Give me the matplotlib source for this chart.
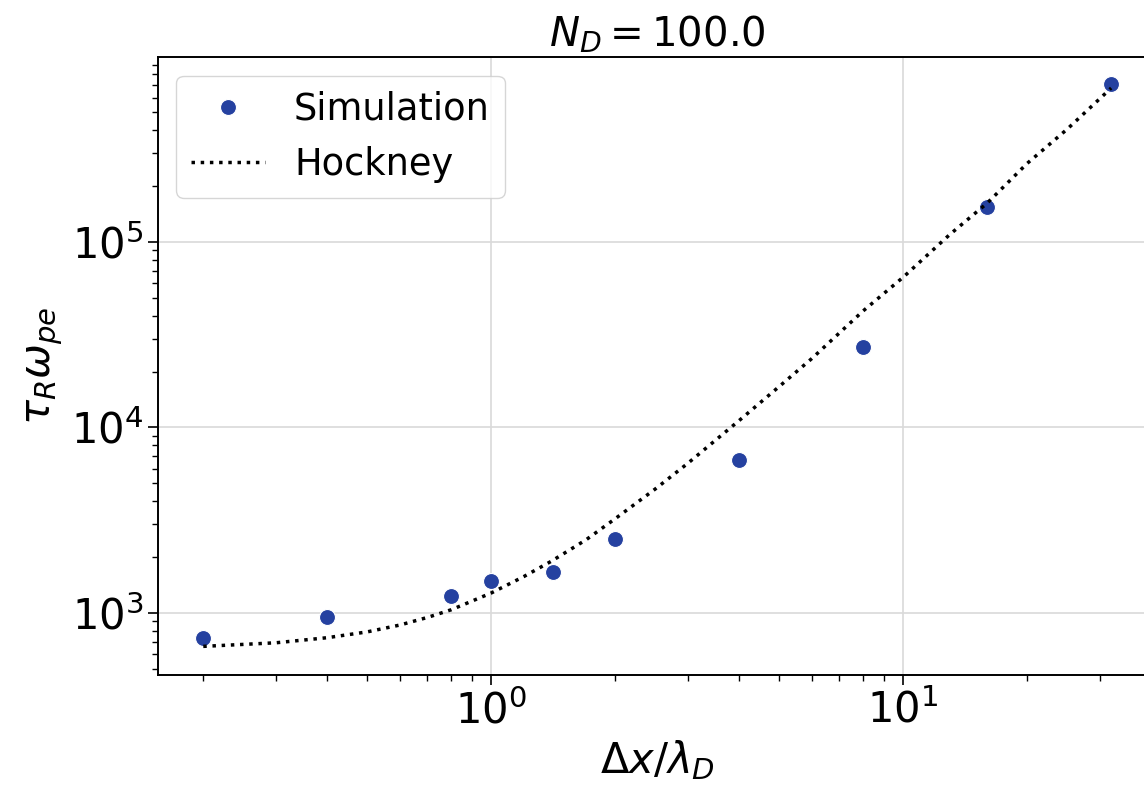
import numpy as np
import matplotlib
matplotlib.use("Agg")
import matplotlib.pyplot as plt

# Dados da simulacao (N_D = 100)
dx_sim = [0.2, 0.4, 0.8, 1.0, 1.4142, 2.0, 4.0, 8.0, 16.0, 32.0]
tau_sim = [730, 955, 1235, 1489, 1671, 2500, 6650, 27000, 153500, 714000]

# Curva de Hockney
dx_hock = [0.2, 0.3, 0.4, 0.5, 0.6, 0.7, 0.8, 1.0, 1.2, 1.4, 1.7, 2.0, 2.5,
           3.0, 4.0, 5.0, 6.0, 8.0, 10.0, 13.0, 16.0, 20.0, 25.0, 32.0]
tau_hock = [660, 690, 735, 790, 860, 945, 1040, 1280, 1570, 1900, 2480, 3220,
            4650, 6400, 10900, 16600, 23500, 42500, 64500, 110000, 162000,
            265000, 405000, 676000]

N_D = 100.0

fig = plt.figure(figsize=(11.44, 7.85), dpi=100)
ax = fig.add_axes([0.138, 0.140, 0.873, 0.787])

ax.plot(dx_sim, tau_sim, "o", color="#2541a0", markersize=11.5,
        markeredgecolor="white", markeredgewidth=0.8, label="Simulation", zorder=2)
ax.plot(dx_hock, tau_hock, ":", color="black", linewidth=2.5, label="Hockney", zorder=3)

ax.set_xscale("log")
ax.set_yscale("log")
ax.set_ylim(462, 9.9e5)
ax.grid(True, which="major", color="#d9d9d9", linewidth=1.2)
ax.set_axisbelow(True)

ax.tick_params(axis="both", which="major", labelsize=30, length=7, width=1.2)
ax.tick_params(axis="both", which="minor", length=4, width=1.0)
for s in ax.spines.values():
    s.set_linewidth(1.4)

ax.set_xlabel(r"$\Delta x/\lambda_D$", fontsize=30)
ax.set_ylabel(r"$\tau_R\omega_{pe}$", fontsize=30)
ax.set_title(r"$N_D = $" + f"{N_D}", fontsize=29, pad=8)

ax.legend(loc="upper left", fontsize=26.5, borderaxespad=0.5, handlelength=2.0)

fig.savefig("out.png", dpi=100)
